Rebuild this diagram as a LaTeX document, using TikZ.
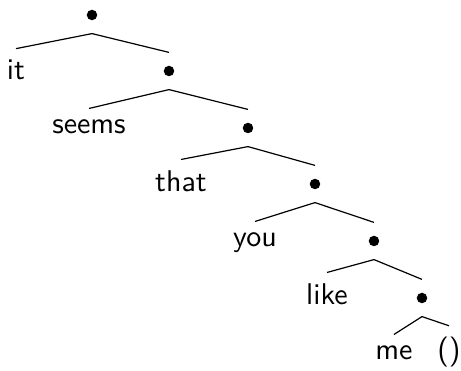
\documentclass[tikz,border=0pt]{standalone}
\usepackage{tikz}
\begin{document}
\begin{tikzpicture}[x=0.3333pt, y=-0.3333pt,
  word/.style={font=\sffamily, inner sep=3.7pt, anchor=base},
  dot/.style={inner sep=0pt, minimum width=4pt, minimum height=12pt,
    path picture={\fill (path picture bounding box.center) circle (1.75pt);}}]
  \useasboundingbox (0,0) rectangle (461,371);

  % spine of bullets
  \node[dot] (b0) at (92,15) {};
  \node[dot] (b1) at (169,71) {};
  \node[dot] (b2) at (248,128) {};
  \node[dot] (b3) at (315,184) {};
  \node[dot] (b4) at (374,241) {};
  \node[dot] (b5) at (422,298) {};

  % words
  \node[word] (it) at (16,80) {it};
  \node[word] (seems) at (89,134) {seems};
  \node[word] (that) at (181,192) {that};
  \node[word] (you) at (255,247) {you};
  \node[word] (like) at (327,305) {like};
  \node[word] (me) at (394,360) {me};
  \node[word] (gap) at (449,360) {()};

  \draw (b0.south) -- (it.north);
  \draw (b0.south) -- (b1.north);
  \draw (b1.south) -- (seems.north);
  \draw (b1.south) -- (b2.north);
  \draw (b2.south) -- (that.north);
  \draw (b2.south) -- (b3.north);
  \draw (b3.south) -- (you.north);
  \draw (b3.south) -- (b4.north);
  \draw (b4.south) -- (like.north);
  \draw (b4.south) -- (b5.north);
  \draw (b5.south) -- (me.north);
  \draw (b5.south) -- (gap.north);
\end{tikzpicture}
\end{document}
